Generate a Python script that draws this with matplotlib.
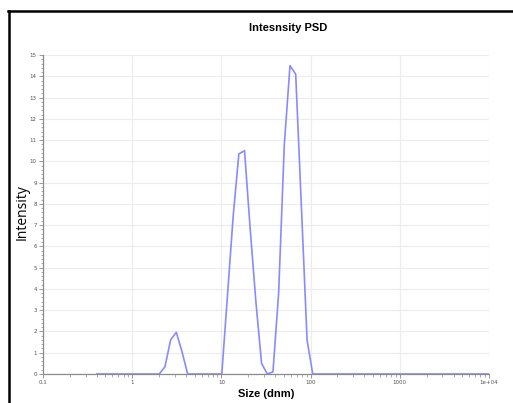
import matplotlib
matplotlib.use("Agg")
import matplotlib.pyplot as plt
from matplotlib.lines import Line2D
from matplotlib.ticker import FixedLocator, MultipleLocator, LogLocator, NullFormatter

# size classes (d.nm) and intensity (%)
sizes = [0.4, 0.4632, 0.5365, 0.6213, 0.7195, 0.8332, 0.9649, 1.117, 1.294, 1.499,
         1.736, 2.010, 2.328, 2.696, 3.122, 3.615, 4.187, 4.849, 5.615, 6.503,
         7.531, 8.721, 10.10, 11.70, 13.54, 15.69, 18.17, 21.04, 24.36, 28.21,
         32.67, 37.84, 43.82, 50.75, 58.77, 68.06, 78.82, 91.28, 105.7, 122.4,
         141.8, 164.2, 190.1, 220.2, 255.0, 295.3, 342.0, 396.1, 458.7, 531.2,
         615.1, 712.4, 825.0, 955.4, 1106, 1281, 1484, 1718, 1990, 2305,
         2669, 3091, 3580, 4145, 4801, 5560, 6439, 7456, 8635, 10000]
intensity = [0, 0, 0, 0, 0, 0, 0, 0, 0, 0,
             0, 0, 0.34, 1.6, 1.96, 1.05, 0, 0, 0, 0,
             0, 0, 0, 3.7, 7.4, 10.35, 10.5, 6.8, 3.4, 0.5,
             0, 0.1, 3.8, 10.8, 14.5, 14.1, 7.9, 1.6, 0, 0,
             0, 0, 0, 0, 0, 0, 0, 0, 0, 0,
             0, 0, 0, 0, 0, 0, 0, 0, 0, 0,
             0, 0, 0, 0, 0, 0, 0, 0, 0, 0]

x_ticks = [0.1, 1, 10, 100, 1000, 10000]
x_tick_labels = ["0.1", "1", "10", "100", "1000", "1e+04"]
y_ticks = list(range(0, 16))

W, H = 513, 403
fig = plt.figure(figsize=(W / 100, H / 100), dpi=100)
ax = fig.add_axes([43 / W, 1 - 374 / H, (489 - 43) / W, (374 - 55) / H])

ax.plot(sizes, intensity, color="#8a8aff", lw=1.2, zorder=3)

ax.set_xscale("log")
ax.set_xlim(0.1, 10000)
ax.set_ylim(0, 15)
ax.xaxis.set_major_locator(FixedLocator(x_ticks))
ax.set_xticklabels(x_tick_labels)
ax.xaxis.set_minor_locator(LogLocator(base=10, subs=range(2, 10), numticks=20))
ax.xaxis.set_minor_formatter(NullFormatter())
ax.set_yticks(y_ticks)
ax.yaxis.set_minor_locator(MultipleLocator(0.2))

ax.grid(True, which="major", color="#ececf0", lw=0.8, zorder=0)
for s in ["top", "right"]:
    ax.spines[s].set_visible(False)
for s in ["left", "bottom"]:
    ax.spines[s].set_color("#8a8a8a")
    ax.spines[s].set_linewidth(0.9)
ax.tick_params(which="major", length=3, width=0.6, color="#8a8a8a",
               labelsize=4, labelcolor="#555555", pad=1.5)
ax.tick_params(which="minor", length=1.8, width=0.5, color="#8a8a8a")

fig.text(288 / W, 1 - 28 / H, "Intesnsity PSD", ha="center", va="center",
         fontsize=8, fontweight="bold", family="Liberation Sans")
fig.text(266 / W, 1 - 394 / H, "Size (dnm)", ha="center", va="center",
         fontsize=8, fontweight="bold", family="Liberation Sans")
fig.text(22 / W, 1 - 212 / H, "Intensity", ha="center", va="center",
         rotation=90, fontsize=10, family="Open Sans")

# outer frame (top and left edges visible)
fig.add_artist(Line2D([8 / W, 1], [1 - 11 / H, 1 - 11 / H], color="black", lw=1.8))
fig.add_artist(Line2D([8.5 / W, 8.5 / W], [0, 1 - 11 / H], color="black", lw=1.8))

fig.savefig("out.png", dpi=100)
